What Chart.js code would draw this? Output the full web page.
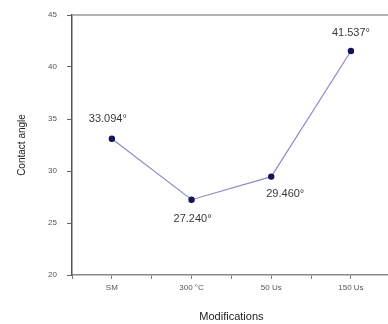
<!DOCTYPE html>
<html>
<head>
<meta charset="utf-8">
<script src="https://cdn.jsdelivr.net/npm/chart.js@4"></script>
<style>
  html, body { margin: 0; padding: 0; background: #fff; overflow: hidden; }
  #wrap { width: 388px; height: 324px; overflow: hidden; }
  #wrap canvas { display: block; }
</style>
</head>
<body>
<div id="wrap"><canvas id="angleChart" width="396" height="324"></canvas></div>
<script>
const categories = ['SM', '300 °C', '50 Us', '150 Us'];
const contactAngle = [33.094, 27.240, 29.460, 41.537];
const angleLabels = ['33.094°', '27.240°', '29.460°', '41.537°'];
const yTicks = [20, 25, 30, 35, 40, 45];

// frame around plot area
const framePlugin = {
    id: 'frame',
    beforeDatasetsDraw(chart) {
        const a = chart.chartArea;
        const ctx = chart.ctx;
        ctx.save();
        ctx.strokeStyle = '#9a9a9a';
        ctx.lineWidth = 1.5;
        ctx.beginPath();
        ctx.moveTo(a.left, a.top);
        ctx.lineTo(a.right, a.top);
        ctx.stroke();
        ctx.restore();
    }
};

// value labels next to the points
const labelPlugin = {
    id: 'valueLabels',
    afterDatasetsDraw(chart) {
        const offsets = [[-4, -20], [1, 19], [14, 17], [0, -18]];
        const ctx = chart.ctx;
        const pts = chart.getDatasetMeta(0).data;
        ctx.save();
        ctx.font = '11px "Liberation Sans", Arial, sans-serif';
        ctx.fillStyle = '#3a3a3a';
        ctx.textAlign = 'center';
        ctx.textBaseline = 'middle';
        pts.forEach((p, i) => {
            ctx.fillText(angleLabels[i], p.x + offsets[i][0], p.y + offsets[i][1]);
        });
        ctx.restore();
    }
};

const ctx = document.getElementById('angleChart').getContext('2d');
new Chart(ctx, {
    type: 'line',
    data: {
        datasets: [{
            data: contactAngle.map((v, i) => ({ x: i, y: v })),
            borderColor: '#8c8cc8',
            borderWidth: 1.2,
            pointRadius: 2.6,
            pointBackgroundColor: '#14145a',
            pointBorderColor: '#14145a',
            tension: 0
        }]
    },
    options: {
        responsive: false,
        animation: false,
        layout: { padding: { top: 15, left: 0, right: 0, bottom: 0 } },
        plugins: {
            legend: { display: false },
            tooltip: { enabled: false }
        },
        scales: {
            x: {
                type: 'linear',
                min: -0.5,
                max: 3.5,
                afterFit(scale) { scale.height = 49; },
                ticks: {
                    stepSize: 0.5,
                    autoSkip: false,
                    maxRotation: 0,
                    padding: 4,
                    font: { size: 8, family: '"Liberation Sans", Arial, sans-serif' },
                    color: '#555',
                    callback: v => Number.isInteger(v) ? categories[v] : ''
                },
                grid: { drawOnChartArea: false, drawTicks: true, tickLength: 4, color: '#777' },
                border: { color: '#8a8a8a', width: 1.5 },
                title: {
                    display: true,
                    text: 'Modifications',
                    font: { size: 11, family: '"Liberation Sans", Arial, sans-serif' },
                    color: '#222',
                    padding: { top: 9, bottom: 0 }
                }
            },
            y: {
                min: 20,
                max: 45,
                afterFit(scale) { scale.width = 72; },
                afterBuildTicks(scale) { scale.ticks = yTicks.map(v => ({ value: v })); },
                ticks: {
                    padding: 10,
                    font: { size: 8, family: '"Liberation Sans", Arial, sans-serif' },
                    color: '#555'
                },
                grid: { drawOnChartArea: false, drawTicks: true, tickLength: 5, color: '#666' },
                border: { color: '#555', width: 1.5 },
                title: {
                    display: true,
                    text: 'Contact angle',
                    font: { size: 10, family: '"Liberation Sans", Arial, sans-serif' },
                    color: '#222',
                    padding: { top: 16, bottom: 0 }
                }
            }
        }
    },
    plugins: [framePlugin, labelPlugin]
});
</script>
</body>
</html>
